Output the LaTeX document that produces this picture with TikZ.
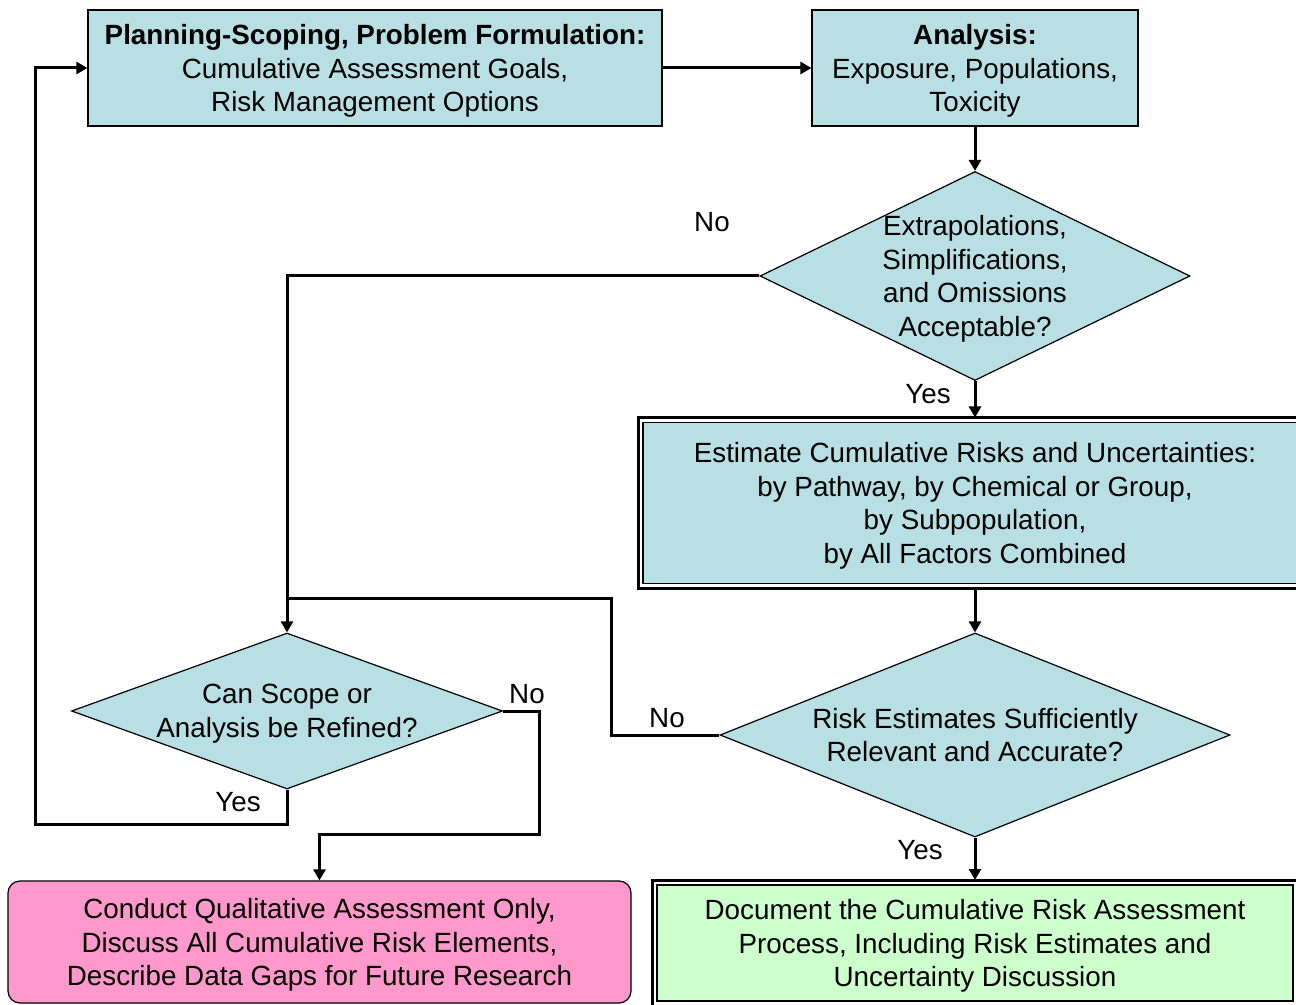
\documentclass[tikz,border=0pt]{standalone}
\usepackage{fontspec}
\setmainfont{Liberation Sans}
\usetikzlibrary{shapes.geometric,arrows.meta}
\definecolor{boxblue}{HTML}{B8DFE3}
\definecolor{boxpink}{HTML}{FF99CC}
\definecolor{boxgreen}{HTML}{CCFFCC}
\newcommand{\flowfont}{\fontsize{13.9}{16.75}\selectfont}
\tikzstyle{block}=[rectangle, draw=black, fill=boxblue, line width=0.6pt, align=center, inner sep=0pt, text depth=0pt, font=\flowfont]
\tikzstyle{framed}=[block, outer sep=2.5pt]
\tikzstyle{decision}=[diamond, draw=black, fill=boxblue, line width=0.6pt, align=center, inner sep=0pt, text depth=0pt, font=\flowfont]
\tikzstyle{link}=[draw=black, line width=1.5pt]
\tikzstyle{arrow}=[link, -{Triangle[length=5.5pt,width=6pt]}]
\tikzstyle{answer}=[inner sep=0pt, font=\flowfont]

\begin{document}
\begin{tikzpicture}[x=0.5pt, y=-0.5pt]
			\useasboundingbox (0,0) rectangle (1296,1005);
			% boxes and decisions
			\node[block, minimum width=287pt, minimum height=58pt] (plan) at (375,68)
				{\textbf{Planning-Scoping, Problem Formulation:}\\Cumulative Assessment Goals,\\Risk Management Options};
			\node[block, minimum width=163pt, minimum height=58pt] (analysis) at (975,68)
				{\textbf{Analysis:}\\Exposure, Populations,\\Toxicity};
			\node[decision, aspect=2.06, inner xsep=-6pt, minimum width=215pt, minimum height=104.5pt] (extrap) at (975,276)
				{Extrapolations,\\Simplifications,\\and Omissions\\Acceptable?};
			\node[framed, minimum width=332pt, minimum height=80.5pt] (estimate) at (975,503)
				{Estimate Cumulative Risks and Uncertainties:\\by Pathway, by Chemical or Group,\\by Subpopulation,\\by All Factors Combined};
			\node[decision, aspect=2.5, minimum width=255pt, minimum height=102pt] (risk) at (975,735)
				{Risk Estimates Sufficiently\\Relevant and Accurate?};
			\node[decision, aspect=2.76, minimum width=215.5pt, minimum height=78pt] (scope) at (287,711)
				{Can Scope or\\Analysis be Refined?};
			\node[block, fill=boxpink, rounded corners=6pt, minimum width=311.5pt, minimum height=61pt] (qual) at (319.5,942)
				{Conduct Qualitative Assessment Only,\\Discuss All Cumulative Risk Elements,\\Describe Data Gaps for Future Research};
			\node[framed, fill=boxgreen, minimum width=318pt, minimum height=58pt] (doc) at (975,943)
				{Document the Cumulative Risk Assessment\\Process, Including Risk Estimates and\\Uncertainty Discussion};
			% heavy outer frames
			\draw[line width=1.5pt] (estimate.north west) rectangle (estimate.south east);
			\draw[line width=1.5pt] (doc.north west) rectangle (doc.south east);
			% bends
			\coordinate (merge) at (287,598);
			\coordinate (turn) at (611,598);
			\coordinate (loop) at (35,824);
			\coordinate (drop) at (539,834);
			% connectors
			\path[arrow] (plan) -- (analysis);
			\path[arrow] (analysis) -- (extrap);
			\path[arrow] (extrap.west) -| (scope.north);
			\path[arrow] (extrap.south) -- (estimate.north);
			\path[arrow] (estimate.south) -- (risk.north);
			\path[link] (risk.west) -| (turn) -- (merge);
			\path[arrow] (scope.south) |- (loop) |- (plan.west);
			\path[arrow] (scope.east) -| (drop) -| (qual.north);
			\path[arrow] (risk.south) -- (doc.north);
			% answers
			\node[answer] (a1) at (712,222) {No};
			\node[answer] (a2) at (928,394) {Yes};
			\node[answer] (a3) at (667,718) {No};
			\node[answer] (a4) at (527,694) {No};
			\node[answer] (a5) at (238,802) {Yes};
			\node[answer] (a6) at (920,850) {Yes};
		\end{tikzpicture}
\end{document}
